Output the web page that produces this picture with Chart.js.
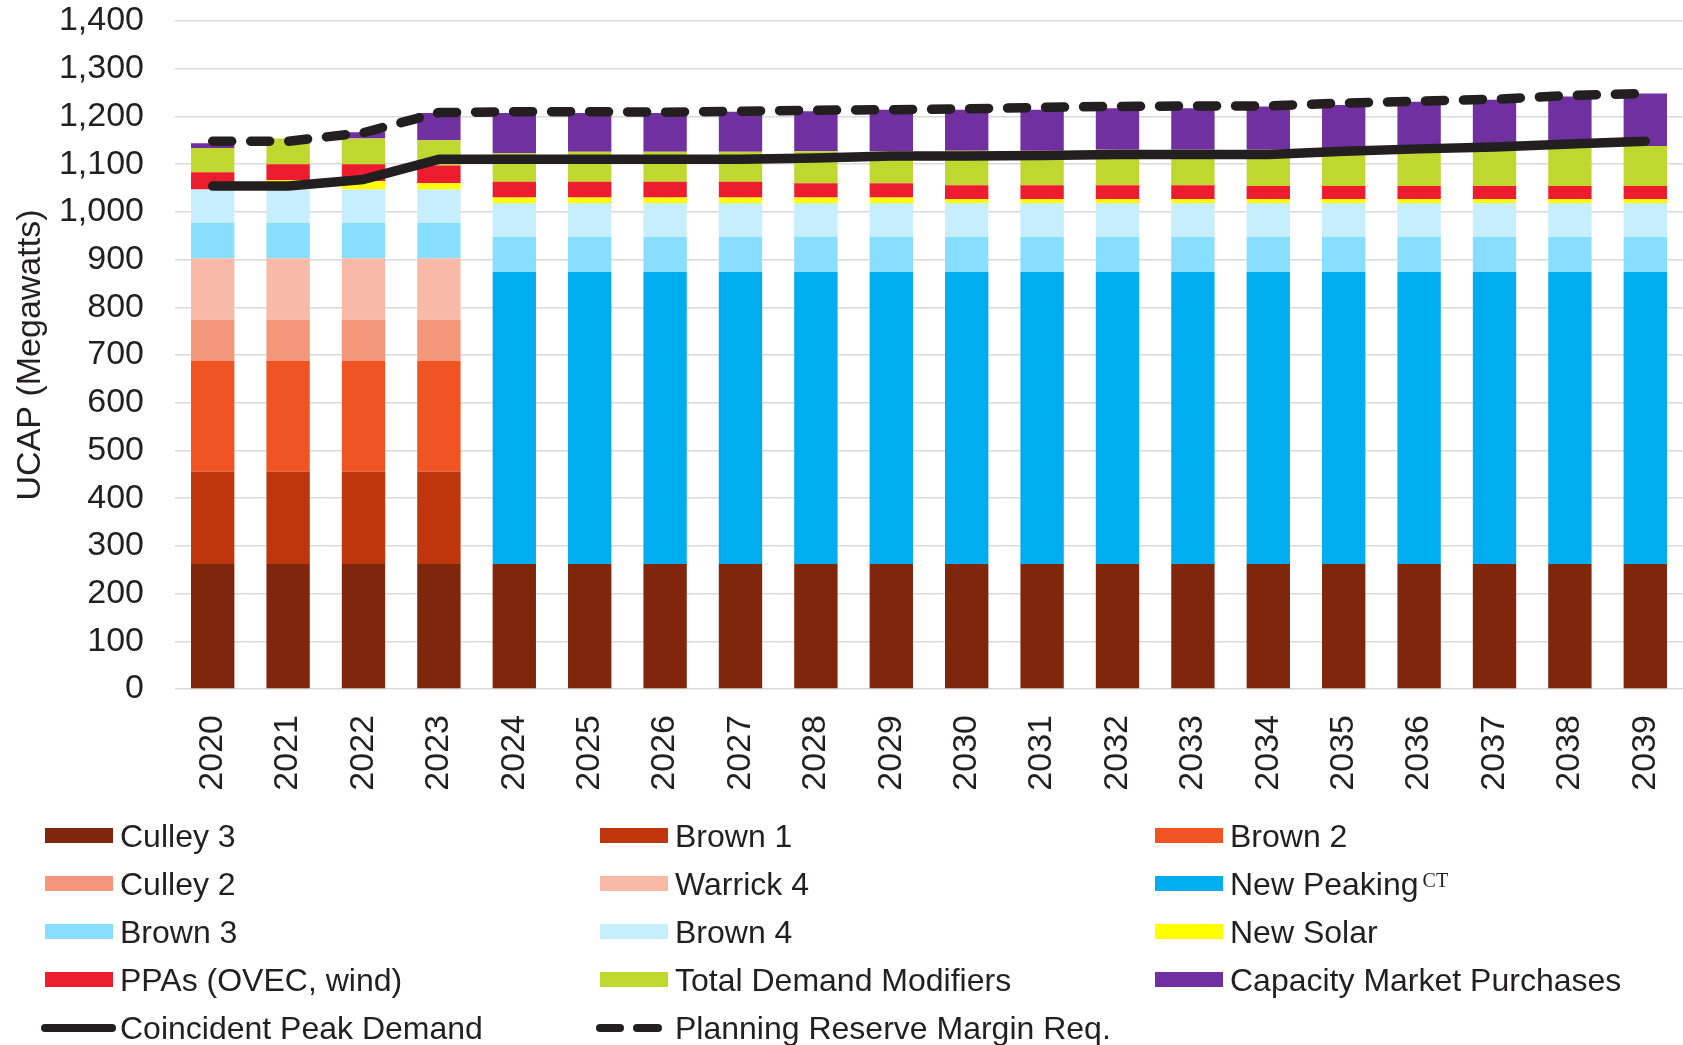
<!DOCTYPE html>
<html>
<head>
<meta charset="utf-8">
<title>UCAP Capacity Outlook 2020-2039</title>
<script src="https://cdn.jsdelivr.net/npm/chart.js@4.4.1/dist/chart.umd.min.js"></script>
<style>
  html, body { margin: 0; padding: 0; background: #ffffff; }
  #wrap {
    position: relative; width: 1683px; height: 1045px; overflow: hidden;
    font-family: "Liberation Sans", Arial, sans-serif; color: #231F20;
  }
  #chart { position: absolute; left: 0; top: 0; }
  #legend { position: absolute; left: 0; top: 0; width: 1683px; height: 1045px; }
  .item { position: absolute; height: 40px; display: flex; align-items: center;
          font-size: 32px; white-space: nowrap; line-height: 40px; }
  .item sup { font-family: "Liberation Serif", "Times New Roman", serif;
              font-size: 20px; position: relative; top: -4px; margin-left: 4px; }
  .swatch { position: absolute; }
</style>
</head>
<body>
<div id="wrap">
  <canvas id="chart" width="1683" height="800"></canvas>
  <div id="legend"></div>
</div>
<script>
// Planning years
const years = ['2020','2021','2022','2023','2024','2025','2026','2027','2028','2029',
               '2030','2031','2032','2033','2034','2035','2036','2037','2038','2039'];

// Unforced capacity by resource (MW)
const culley3     = [262,262,262,262,262,262,262,262,262,262,262,262,262,262,262,262,262,262,262,262];
const brown1      = [194,194,194,194,0,0,0,0,0,0,0,0,0,0,0,0,0,0,0,0];
const brown2      = [232,232,232,232,0,0,0,0,0,0,0,0,0,0,0,0,0,0,0,0];
const culley2     = [86,86,86,86,0,0,0,0,0,0,0,0,0,0,0,0,0,0,0,0];
const warrick4    = [129,129,129,129,0,0,0,0,0,0,0,0,0,0,0,0,0,0,0,0];
const newPeaking  = [0,0,0,0,612,612,612,612,612,612,612,612,612,612,612,612,612,612,612,612];
const brown3      = [74,74,74,74,74,74,74,74,74,74,74,74,74,74,74,74,74,74,74,74];
const brown4      = [70,70,70,70,70,70,70,70,70,70,70,70,70,70,70,70,70,70,70,70];
const newSolar    = [0,20,17,13,12,12,12,12,12,12,9,9,9,9,9,9,9,9,9,9];
const ppas        = [36,33,36,37,33,33,33,33,30,30,29,29,29,29,27,27,27,27,27,27];
const demandMods  = [51,54,54,53,60,63,63,63,67,67,72,72,74,74,76,78,80,82,83,84];
const marketBuys  = [10,0,13,57,84,81,81,84,84,87,86,86,87,87,91,92,97,99,105,110];

// Load obligations (MW)
const peakDemand  = [1054,1054,1068,1110,1110,1110,1110,1110,1113,1117,1117,1118,1120,1120,1120,1127,1132,1136,1142,1148];
const reserveReq  = [1148,1148,1166,1208,1210,1210,1209,1211,1213,1214,1216,1219,1221,1222,1222,1228,1232,1236,1244,1248];

// Value axis
const yMin = 0, yMax = 1400, yStep = 100;

const INK = '#231F20';
const FONT = '"Liberation Sans", Arial, sans-serif';

const barSeries = [
  { label: 'Culley 3',                data: culley3,    color: '#80260C' },
  { label: 'Brown 1',                 data: brown1,     color: '#BF360D' },
  { label: 'Brown 2',                 data: brown2,     color: '#F05423' },
  { label: 'Culley 2',                data: culley2,    color: '#F4967A' },
  { label: 'Warrick 4',               data: warrick4,   color: '#F8B9A6' },
  { label: 'New Peaking',             data: newPeaking, color: '#00AEEF', sup: 'CT' },
  { label: 'Brown 3',                 data: brown3,     color: '#87DEFE' },
  { label: 'Brown 4',                 data: brown4,     color: '#C6EEFD' },
  { label: 'New Solar',               data: newSolar,   color: '#FFFF00' },
  { label: 'PPAs (OVEC, wind)',       data: ppas,       color: '#ED1C2E' },
  { label: 'Total Demand Modifiers',  data: demandMods, color: '#C0D72F' },
  { label: 'Capacity Market Purchases', data: marketBuys, color: '#7030A0' }
];

const datasets = barSeries.map(s => ({
  type: 'bar',
  label: s.label,
  data: s.data,
  backgroundColor: s.color,
  borderWidth: 0,
  stack: 'supply',
  order: 1,
  barPercentage: 0.575,
  categoryPercentage: 1.0
}));

datasets.push({
  type: 'line',
  label: 'Coincident Peak Demand',
  data: peakDemand,
  borderColor: INK,
  borderWidth: 9.5,
  borderCapStyle: 'round',
  borderJoinStyle: 'round',
  pointRadius: 0,
  tension: 0,
  fill: false,
  stack: 'peak',
  order: 0
});
datasets.push({
  type: 'line',
  label: 'Planning Reserve Margin Req.',
  data: reserveReq,
  borderColor: INK,
  borderWidth: 9.5,
  borderDash: [19, 19],
  borderCapStyle: 'round',
  borderJoinStyle: 'round',
  pointRadius: 0,
  tension: 0,
  fill: false,
  stack: 'prm',
  order: 0
});

const chart = new Chart(document.getElementById('chart'), {
  data: { labels: years, datasets: datasets },
  options: {
    responsive: false,
    animation: false,
    devicePixelRatio: 1,
    layout: { padding: { top: 21, right: 0, bottom: 0, left: 0 } },
    plugins: { legend: { display: false }, tooltip: { enabled: false } },
    scales: {
      x: {
        stacked: true,
        offset: true,
        grid: { display: false, drawTicks: false },
        border: { display: false },
        ticks: {
          autoSkip: false, minRotation: 90, maxRotation: 90,
          padding: 26, color: INK, font: { family: FONT, size: 34 }
        },
        afterFit: s => { s.height = 111; s.paddingLeft = 0; s.paddingRight = 0; }
      },
      y: {
        stacked: true,
        min: yMin, max: yMax,
        grid: { color: '#D9D9D9', lineWidth: 1.5, drawTicks: false },
        border: { display: false },
        ticks: {
          stepSize: yStep, padding: 31, color: INK,
          font: { family: FONT, size: 34 },
          callback: v => v.toLocaleString('en-US')
        },
        title: {
          display: true, text: 'UCAP (Megawatts)', color: INK,
          font: { family: FONT, size: 34 }, padding: { top: 10, bottom: 0 }
        },
        afterFit: s => { s.width = 175; s.paddingTop = 0; s.paddingBottom = 0; }
      }
    }
  }
});

// Legend laid out as a three-column grid below the plot
const legendEl = document.getElementById('legend');
const colSwatchX = [45, 600, 1155];
const rowCenterY = [836, 884, 932, 980, 1028];
const textGap = 75;

const legendItems = chart.data.datasets.map((d, i) => ({
  label: d.label,
  sup: i < barSeries.length ? barSeries[i].sup : null,
  kind: d.type,
  color: d.type === 'bar' ? d.backgroundColor : d.borderColor,
  dashed: !!d.borderDash
}));

legendItems.forEach((it, i) => {
  const col = i % 3, row = Math.floor(i / 3);
  const x = colSwatchX[col], cy = rowCenterY[row];
  if (it.kind === 'bar') {
    const sw = document.createElement('div');
    sw.className = 'swatch';
    sw.style.cssText = `left:${x}px;top:${cy - 8}px;width:68px;height:15px;background:${it.color};`;
    legendEl.appendChild(sw);
  } else if (!it.dashed) {
    const sw = document.createElement('div');
    sw.className = 'swatch';
    sw.style.cssText = `left:${x - 4}px;top:${cy - 4}px;width:75px;height:8px;border-radius:4px;background:${it.color};`;
    legendEl.appendChild(sw);
  } else {
    [[x - 4, 28], [x + 33, 29]].forEach(([dx, w]) => {
      const sw = document.createElement('div');
      sw.className = 'swatch';
      sw.style.cssText = `left:${dx}px;top:${cy - 4}px;width:${w}px;height:8px;border-radius:4px;background:${it.color};`;
      legendEl.appendChild(sw);
    });
  }
  const tx = document.createElement('div');
  tx.className = 'item';
  tx.style.left = (x + textGap) + 'px';
  tx.style.top = (cy - 20) + 'px';
  tx.textContent = it.label;
  if (it.sup) {
    const s = document.createElement('sup');
    s.textContent = it.sup;
    tx.appendChild(s);
  }
  legendEl.appendChild(tx);
});
</script>
</body>
</html>
